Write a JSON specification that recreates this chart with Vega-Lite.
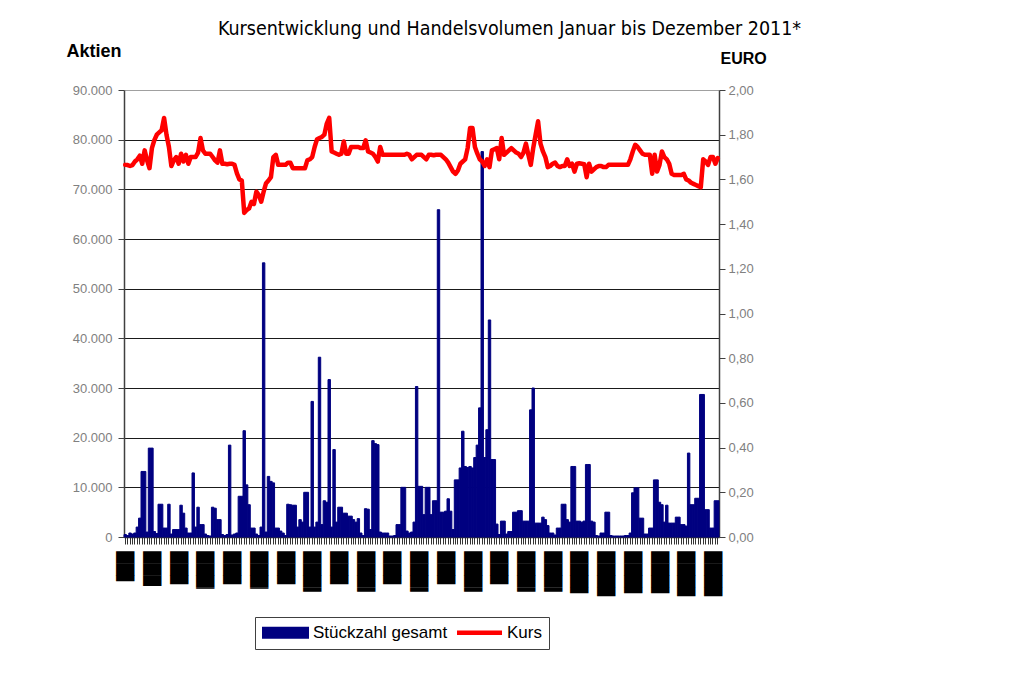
{
  "$schema": "https://vega.github.io/schema/vega-lite/v6.json",
  "width": 595,
  "height": 447,
  "autosize": {"type": "none"},
  "padding": {"left": 124, "top": 90, "right": 292, "bottom": 149},
  "background": "white",
  "config": {
    "view": {"stroke": null},
    "locale": {"number": {"decimal": ",", "thousands": ".", "grouping": [3], "currency": ["", " €"]}}
  },
  "title": {
    "text": "Kursentwicklung und Handelsvolumen Januar bis Dezember 2011*",
    "font": "DejaVu Sans Condensed",
    "fontSize": 19.5,
    "fontWeight": "normal",
    "color": "#000000",
    "anchor": "middle",
    "frame": "group",
    "dx": 88,
    "dy": 17,
    "baseline": "alphabetic",
    "offset": 5
  },
  "data": {"values": [
    {"Tag":0,"Stueckzahl":500,"Kurs":1.665},{"Tag":1,"Stueckzahl":300,"Kurs":1.664},{"Tag":2,"Stueckzahl":800,"Kurs":1.66},{"Tag":3,"Stueckzahl":600,"Kurs":1.664},{"Tag":4,"Stueckzahl":800,"Kurs":1.68},
    {"Tag":5,"Stueckzahl":2000,"Kurs":1.69},{"Tag":6,"Stueckzahl":3800,"Kurs":1.706},{"Tag":7,"Stueckzahl":13200,"Kurs":1.67},{"Tag":8,"Stueckzahl":13200,"Kurs":1.73},{"Tag":9,"Stueckzahl":1000,"Kurs":1.685},
    {"Tag":10,"Stueckzahl":17900,"Kurs":1.65},{"Tag":11,"Stueckzahl":17900,"Kurs":1.74},{"Tag":12,"Stueckzahl":1100,"Kurs":1.776},{"Tag":13,"Stueckzahl":700,"Kurs":1.80},{"Tag":14,"Stueckzahl":6600,"Kurs":1.81},
    {"Tag":15,"Stueckzahl":6600,"Kurs":1.82},{"Tag":16,"Stueckzahl":1800,"Kurs":1.875},{"Tag":17,"Stueckzahl":1800,"Kurs":1.80},{"Tag":18,"Stueckzahl":6600,"Kurs":1.745},{"Tag":19,"Stueckzahl":600,"Kurs":1.66},
    {"Tag":20,"Stueckzahl":1500,"Kurs":1.685},{"Tag":21,"Stueckzahl":1500,"Kurs":1.70},{"Tag":22,"Stueckzahl":1500,"Kurs":1.67},{"Tag":23,"Stueckzahl":6400,"Kurs":1.715},{"Tag":24,"Stueckzahl":4800,"Kurs":1.68},
    {"Tag":25,"Stueckzahl":1800,"Kurs":1.71},{"Tag":26,"Stueckzahl":800,"Kurs":1.67},{"Tag":27,"Stueckzahl":800,"Kurs":1.70},{"Tag":28,"Stueckzahl":12900,"Kurs":1.70},{"Tag":29,"Stueckzahl":2000,"Kurs":1.70},
    {"Tag":30,"Stueckzahl":6000,"Kurs":1.72},{"Tag":31,"Stueckzahl":2500,"Kurs":1.785},{"Tag":32,"Stueckzahl":2500,"Kurs":1.73},{"Tag":33,"Stueckzahl":600,"Kurs":1.715},{"Tag":34,"Stueckzahl":300,"Kurs":1.715},
    {"Tag":35,"Stueckzahl":200,"Kurs":1.715},{"Tag":36,"Stueckzahl":6000,"Kurs":1.70},{"Tag":37,"Stueckzahl":5800,"Kurs":1.685},{"Tag":38,"Stueckzahl":3500,"Kurs":1.675},{"Tag":39,"Stueckzahl":3500,"Kurs":1.73},
    {"Tag":40,"Stueckzahl":500,"Kurs":1.67},{"Tag":41,"Stueckzahl":300,"Kurs":1.67},{"Tag":42,"Stueckzahl":500,"Kurs":1.668},{"Tag":43,"Stueckzahl":18500,"Kurs":1.67},{"Tag":44,"Stueckzahl":400,"Kurs":1.67},
    {"Tag":45,"Stueckzahl":600,"Kurs":1.665},{"Tag":46,"Stueckzahl":800,"Kurs":1.627},{"Tag":47,"Stueckzahl":8200,"Kurs":1.60},{"Tag":48,"Stueckzahl":8200,"Kurs":1.595},{"Tag":49,"Stueckzahl":21400,"Kurs":1.45},
    {"Tag":50,"Stueckzahl":10500,"Kurs":1.463},{"Tag":51,"Stueckzahl":6500,"Kurs":1.47},{"Tag":52,"Stueckzahl":1800,"Kurs":1.50},{"Tag":53,"Stueckzahl":1800,"Kurs":1.49},{"Tag":54,"Stueckzahl":600,"Kurs":1.545},
    {"Tag":55,"Stueckzahl":300,"Kurs":1.53},{"Tag":56,"Stueckzahl":2000,"Kurs":1.50},{"Tag":57,"Stueckzahl":55200,"Kurs":1.545},{"Tag":58,"Stueckzahl":1000,"Kurs":1.583},{"Tag":59,"Stueckzahl":12200,"Kurs":1.595},
    {"Tag":60,"Stueckzahl":11200,"Kurs":1.61},{"Tag":61,"Stueckzahl":10900,"Kurs":1.70},{"Tag":62,"Stueckzahl":1800,"Kurs":1.71},{"Tag":63,"Stueckzahl":1800,"Kurs":1.665},{"Tag":64,"Stueckzahl":1200,"Kurs":1.665},
    {"Tag":65,"Stueckzahl":800,"Kurs":1.665},{"Tag":66,"Stueckzahl":300,"Kurs":1.665},{"Tag":67,"Stueckzahl":6600,"Kurs":1.675},{"Tag":68,"Stueckzahl":6500,"Kurs":1.675},{"Tag":69,"Stueckzahl":6400,"Kurs":1.65},
    {"Tag":70,"Stueckzahl":6400,"Kurs":1.65},{"Tag":71,"Stueckzahl":2000,"Kurs":1.65},{"Tag":72,"Stueckzahl":3500,"Kurs":1.65},{"Tag":73,"Stueckzahl":3000,"Kurs":1.65},{"Tag":74,"Stueckzahl":9000,"Kurs":1.65},
    {"Tag":75,"Stueckzahl":9000,"Kurs":1.685},{"Tag":76,"Stueckzahl":2000,"Kurs":1.69},{"Tag":77,"Stueckzahl":27300,"Kurs":1.70},{"Tag":78,"Stueckzahl":2000,"Kurs":1.745},{"Tag":79,"Stueckzahl":3000,"Kurs":1.78},
    {"Tag":80,"Stueckzahl":36200,"Kurs":1.785},{"Tag":81,"Stueckzahl":2500,"Kurs":1.79},{"Tag":82,"Stueckzahl":7300,"Kurs":1.80},{"Tag":83,"Stueckzahl":7000,"Kurs":1.85},{"Tag":84,"Stueckzahl":31700,"Kurs":1.875},
    {"Tag":85,"Stueckzahl":2000,"Kurs":1.725},{"Tag":86,"Stueckzahl":17600,"Kurs":1.72},{"Tag":87,"Stueckzahl":3000,"Kurs":1.715},{"Tag":88,"Stueckzahl":6000,"Kurs":1.71},{"Tag":89,"Stueckzahl":6000,"Kurs":1.715},
    {"Tag":90,"Stueckzahl":4800,"Kurs":1.77},{"Tag":91,"Stueckzahl":4800,"Kurs":1.715},{"Tag":92,"Stueckzahl":4200,"Kurs":1.715},{"Tag":93,"Stueckzahl":4200,"Kurs":1.745},{"Tag":94,"Stueckzahl":3500,"Kurs":1.745},
    {"Tag":95,"Stueckzahl":3000,"Kurs":1.745},{"Tag":96,"Stueckzahl":3700,"Kurs":1.745},{"Tag":97,"Stueckzahl":800,"Kurs":1.74},{"Tag":98,"Stueckzahl":300,"Kurs":1.74},{"Tag":99,"Stueckzahl":5700,"Kurs":1.775},
    {"Tag":100,"Stueckzahl":5600,"Kurs":1.725},{"Tag":101,"Stueckzahl":1500,"Kurs":1.72},{"Tag":102,"Stueckzahl":19400,"Kurs":1.715},{"Tag":103,"Stueckzahl":18800,"Kurs":1.70},{"Tag":104,"Stueckzahl":18600,"Kurs":1.68},
    {"Tag":105,"Stueckzahl":1000,"Kurs":1.745},{"Tag":106,"Stueckzahl":800,"Kurs":1.71},{"Tag":107,"Stueckzahl":800,"Kurs":1.71},{"Tag":108,"Stueckzahl":800,"Kurs":1.71},{"Tag":109,"Stueckzahl":200,"Kurs":1.71},
    {"Tag":110,"Stueckzahl":200,"Kurs":1.71},{"Tag":111,"Stueckzahl":300,"Kurs":1.71},{"Tag":112,"Stueckzahl":2500,"Kurs":1.71},{"Tag":113,"Stueckzahl":2500,"Kurs":1.71},{"Tag":114,"Stueckzahl":10000,"Kurs":1.71},
    {"Tag":115,"Stueckzahl":10000,"Kurs":1.71},{"Tag":116,"Stueckzahl":1200,"Kurs":1.715},{"Tag":117,"Stueckzahl":800,"Kurs":1.71},{"Tag":118,"Stueckzahl":1000,"Kurs":1.69},{"Tag":119,"Stueckzahl":3000,"Kurs":1.70},
    {"Tag":120,"Stueckzahl":30300,"Kurs":1.71},{"Tag":121,"Stueckzahl":10200,"Kurs":1.71},{"Tag":122,"Stueckzahl":10200,"Kurs":1.71},{"Tag":123,"Stueckzahl":4500,"Kurs":1.70},{"Tag":124,"Stueckzahl":10000,"Kurs":1.69},
    {"Tag":125,"Stueckzahl":10000,"Kurs":1.71},{"Tag":126,"Stueckzahl":4500,"Kurs":1.71},{"Tag":127,"Stueckzahl":7300,"Kurs":1.708},{"Tag":128,"Stueckzahl":7300,"Kurs":1.71},{"Tag":129,"Stueckzahl":65900,"Kurs":1.71},
    {"Tag":130,"Stueckzahl":5000,"Kurs":1.71},{"Tag":131,"Stueckzahl":5000,"Kurs":1.70},{"Tag":132,"Stueckzahl":5200,"Kurs":1.69},{"Tag":133,"Stueckzahl":7700,"Kurs":1.675},{"Tag":134,"Stueckzahl":5200,"Kurs":1.655},
    {"Tag":135,"Stueckzahl":1500,"Kurs":1.635},{"Tag":136,"Stueckzahl":11500,"Kurs":1.625},{"Tag":137,"Stueckzahl":11500,"Kurs":1.64},{"Tag":138,"Stueckzahl":13900,"Kurs":1.67},{"Tag":139,"Stueckzahl":21300,"Kurs":1.68},
    {"Tag":140,"Stueckzahl":14200,"Kurs":1.69},{"Tag":141,"Stueckzahl":14000,"Kurs":1.74},{"Tag":142,"Stueckzahl":14200,"Kurs":1.83},{"Tag":143,"Stueckzahl":13900,"Kurs":1.83},{"Tag":144,"Stueckzahl":16000,"Kurs":1.745},
    {"Tag":145,"Stueckzahl":18500,"Kurs":1.715},{"Tag":146,"Stueckzahl":26000,"Kurs":1.69},{"Tag":147,"Stueckzahl":77600,"Kurs":1.68},{"Tag":148,"Stueckzahl":16000,"Kurs":1.66},{"Tag":149,"Stueckzahl":21600,"Kurs":1.69},
    {"Tag":150,"Stueckzahl":43700,"Kurs":1.655},{"Tag":151,"Stueckzahl":15600,"Kurs":1.73},{"Tag":152,"Stueckzahl":15600,"Kurs":1.735},{"Tag":153,"Stueckzahl":2600,"Kurs":1.74},{"Tag":154,"Stueckzahl":500,"Kurs":1.69},
    {"Tag":155,"Stueckzahl":3200,"Kurs":1.785},{"Tag":156,"Stueckzahl":3200,"Kurs":1.71},{"Tag":157,"Stueckzahl":600,"Kurs":1.72},{"Tag":158,"Stueckzahl":1100,"Kurs":1.73},{"Tag":159,"Stueckzahl":1100,"Kurs":1.74},
    {"Tag":160,"Stueckzahl":5000,"Kurs":1.73},{"Tag":161,"Stueckzahl":5000,"Kurs":1.72},{"Tag":162,"Stueckzahl":5300,"Kurs":1.715},{"Tag":163,"Stueckzahl":5300,"Kurs":1.70},{"Tag":164,"Stueckzahl":3200,"Kurs":1.72},
    {"Tag":165,"Stueckzahl":3200,"Kurs":1.76},{"Tag":166,"Stueckzahl":3200,"Kurs":1.71},{"Tag":167,"Stueckzahl":25600,"Kurs":1.665},{"Tag":168,"Stueckzahl":30000,"Kurs":1.74},{"Tag":169,"Stueckzahl":2800,"Kurs":1.80},
    {"Tag":170,"Stueckzahl":2800,"Kurs":1.86},{"Tag":171,"Stueckzahl":2800,"Kurs":1.76},{"Tag":172,"Stueckzahl":4000,"Kurs":1.725},{"Tag":173,"Stueckzahl":3500,"Kurs":1.70},{"Tag":174,"Stueckzahl":2300,"Kurs":1.655},
    {"Tag":175,"Stueckzahl":800,"Kurs":1.66},{"Tag":176,"Stueckzahl":800,"Kurs":1.67},{"Tag":177,"Stueckzahl":400,"Kurs":1.675},{"Tag":178,"Stueckzahl":1800,"Kurs":1.66},{"Tag":179,"Stueckzahl":1800,"Kurs":1.655},
    {"Tag":180,"Stueckzahl":6600,"Kurs":1.66},{"Tag":181,"Stueckzahl":6600,"Kurs":1.66},{"Tag":182,"Stueckzahl":3500,"Kurs":1.69},{"Tag":183,"Stueckzahl":3000,"Kurs":1.66},{"Tag":184,"Stueckzahl":14200,"Kurs":1.67},
    {"Tag":185,"Stueckzahl":14200,"Kurs":1.635},{"Tag":186,"Stueckzahl":3200,"Kurs":1.67},{"Tag":187,"Stueckzahl":3200,"Kurs":1.672},{"Tag":188,"Stueckzahl":3000,"Kurs":1.67},{"Tag":189,"Stueckzahl":3200,"Kurs":1.668},
    {"Tag":190,"Stueckzahl":14600,"Kurs":1.61},{"Tag":191,"Stueckzahl":14600,"Kurs":1.67},{"Tag":192,"Stueckzahl":3200,"Kurs":1.635},{"Tag":193,"Stueckzahl":3000,"Kurs":1.645},{"Tag":194,"Stueckzahl":300,"Kurs":1.655},
    {"Tag":195,"Stueckzahl":200,"Kurs":1.66},{"Tag":196,"Stueckzahl":800,"Kurs":1.66},{"Tag":197,"Stueckzahl":800,"Kurs":1.655},{"Tag":198,"Stueckzahl":5000,"Kurs":1.655},{"Tag":199,"Stueckzahl":5000,"Kurs":1.665},
    {"Tag":200,"Stueckzahl":300,"Kurs":1.665},{"Tag":201,"Stueckzahl":200,"Kurs":1.665},{"Tag":202,"Stueckzahl":200,"Kurs":1.665},{"Tag":203,"Stueckzahl":200,"Kurs":1.665},{"Tag":204,"Stueckzahl":200,"Kurs":1.665},
    {"Tag":205,"Stueckzahl":200,"Kurs":1.665},{"Tag":206,"Stueckzahl":300,"Kurs":1.665},{"Tag":207,"Stueckzahl":300,"Kurs":1.665},{"Tag":208,"Stueckzahl":800,"Kurs":1.69},{"Tag":209,"Stueckzahl":8900,"Kurs":1.725},
    {"Tag":210,"Stueckzahl":9900,"Kurs":1.755},{"Tag":211,"Stueckzahl":9900,"Kurs":1.745},{"Tag":212,"Stueckzahl":3800,"Kurs":1.73},{"Tag":213,"Stueckzahl":3800,"Kurs":1.715},{"Tag":214,"Stueckzahl":600,"Kurs":1.71},
    {"Tag":215,"Stueckzahl":600,"Kurs":1.71},{"Tag":216,"Stueckzahl":1800,"Kurs":1.71},{"Tag":217,"Stueckzahl":1800,"Kurs":1.625},{"Tag":218,"Stueckzahl":11500,"Kurs":1.71},{"Tag":219,"Stueckzahl":11500,"Kurs":1.635},
    {"Tag":220,"Stueckzahl":7000,"Kurs":1.665},{"Tag":221,"Stueckzahl":6500,"Kurs":1.725},{"Tag":222,"Stueckzahl":3000,"Kurs":1.70},{"Tag":223,"Stueckzahl":6400,"Kurs":1.69},{"Tag":224,"Stueckzahl":2800,"Kurs":1.67},
    {"Tag":225,"Stueckzahl":2800,"Kurs":1.625},{"Tag":226,"Stueckzahl":2800,"Kurs":1.62},{"Tag":227,"Stueckzahl":4000,"Kurs":1.62},{"Tag":228,"Stueckzahl":4000,"Kurs":1.62},{"Tag":229,"Stueckzahl":2500,"Kurs":1.62},
    {"Tag":230,"Stueckzahl":2500,"Kurs":1.625},{"Tag":231,"Stueckzahl":2200,"Kurs":1.60},{"Tag":232,"Stueckzahl":16900,"Kurs":1.595},{"Tag":233,"Stueckzahl":6500,"Kurs":1.585},{"Tag":234,"Stueckzahl":6500,"Kurs":1.58},
    {"Tag":235,"Stueckzahl":7800,"Kurs":1.575},{"Tag":236,"Stueckzahl":7800,"Kurs":1.57},{"Tag":237,"Stueckzahl":28700,"Kurs":1.565},{"Tag":238,"Stueckzahl":28700,"Kurs":1.69},{"Tag":239,"Stueckzahl":5500,"Kurs":1.68},
    {"Tag":240,"Stueckzahl":5500,"Kurs":1.665},{"Tag":241,"Stueckzahl":1800,"Kurs":1.70},{"Tag":242,"Stueckzahl":1800,"Kurs":1.70},{"Tag":243,"Stueckzahl":7300,"Kurs":1.67},{"Tag":244,"Stueckzahl":7300,"Kurs":1.695}
  ]},
  "encoding": {
    "x": {
      "field": "Tag",
      "type": "ordinal",
      "scale": {"type": "band", "paddingInner": 0, "paddingOuter": 0},
      "axis": {
        "title": null,
        "labelAngle": 90,
        "labelExpr": "datum.value % 11 === 0 ? ['██▌','██▉','██▊','███▏','██▊','███▏','██▊','███▍','██▊','███▍','██▊','███▍','██▊','███▍','██▊','███▍','███▍','███▌','███▊','███▌','███▌','███▊','███▊'][datum.value / 11] : ''",
        "labelFont": "DejaVu Sans",
        "labelFontSize": 15.5,
        "labelColor": "#000000",
        "labelPadding": 7,
        "labelOverlap": false,
        "labelBound": false,
        "labelFlush": false,
        "tickSize": 7,
        "tickColor": "#333333",
        "domainColor": "#333333",
        "domainWidth": 1.5,
        "grid": false
      }
    }
  },
  "layer": [
    {
      "mark": {"type": "bar", "stroke": "#000080", "strokeWidth": 1},
      "encoding": {
        "y": {
          "field": "Stueckzahl",
          "type": "quantitative",
          "scale": {"domain": [0, 90000], "nice": false},
          "axis": {
            "orient": "left",
            "values": [0, 10000, 20000, 30000, 40000, 50000, 60000, 70000, 80000, 90000],
            "format": ",d",
            "title": "Aktien",
            "titleAngle": 0,
            "titleAlign": "left",
            "titleBaseline": "alphabetic",
            "titleX": -58,
            "titleY": -34,
            "titleFont": "Liberation Sans",
            "titleFontSize": 18,
            "titleFontWeight": "bold",
            "titleColor": "#000000",
            "labelFont": "Liberation Sans",
            "labelFontSize": 13,
            "labelColor": "#808080",
            "labelPadding": 6,
            "tickSize": 6,
            "tickColor": "#404040",
            "domainColor": "#404040",
            "domainWidth": 1.5,
            "grid": true,
            "gridColor": {"condition": {"test": "datum.value === 90000", "value": "#a0a0a0"}, "value": "#1a1a1a"},
            "gridWidth": 1
          }
        },
        "color": {
          "datum": "Stückzahl gesamt",
          "type": "nominal",
          "scale": {"domain": ["Stückzahl gesamt", "Kurs"], "range": ["#000080", "#FF0000"]},
          "legend": {
            "title": null,
            "orient": "none",
            "legendX": 131,
            "legendY": 527,
            "direction": "horizontal",
            "strokeColor": "#404040",
            "padding": 7,
            "labelFont": "Liberation Sans",
            "labelFontSize": 17,
            "labelColor": "#000000",
            "labelOffset": 34,
            "columnPadding": 0,
            "symbolSize": 2025,
            "symbolType": {"expr": "datum.value === 'Kurs' ? 'M-0.333,0H1.667' : 'M-0.333,-0.222H1.667V0.222H-0.333Z'"},
            "symbolFillColor": {"expr": "datum.value === 'Kurs' ? 'transparent' : '#000080'"},
            "symbolStrokeColor": {"expr": "datum.value === 'Kurs' ? '#FF0000' : '#000080'"},
            "symbolStrokeWidth": {"expr": "datum.value === 'Kurs' ? 4.5 : 2"},
            "symbolOpacity": 1
          }
        }
      }
    },
    {
      "mark": {"type": "line", "strokeWidth": 4.5, "strokeJoin": "round", "strokeCap": "round"},
      "encoding": {
        "y": {
          "field": "Kurs",
          "type": "quantitative",
          "scale": {"domain": [0, 2], "nice": false},
          "axis": {
            "orient": "right",
            "values": [0, 0.2, 0.4, 0.6, 0.8, 1.0, 1.2, 1.4, 1.6, 1.8, 2.0],
            "format": ".2f",
            "title": "EURO",
            "titleAngle": 0,
            "titleAlign": "left",
            "titleBaseline": "alphabetic",
            "titleX": 1,
            "titleY": -27,
            "titleFont": "Liberation Sans",
            "titleFontSize": 16,
            "titleFontWeight": "bold",
            "titleColor": "#000000",
            "labelFont": "Liberation Sans",
            "labelFontSize": 13,
            "labelColor": "#808080",
            "labelPadding": 3,
            "tickSize": 6,
            "tickColor": "#404040",
            "domainColor": "#404040",
            "domainWidth": 1.5,
            "grid": false
          }
        },
        "color": {"datum": "Kurs", "type": "nominal"}
      }
    }
  ],
  "resolve": {"scale": {"y": "independent"}}
}
